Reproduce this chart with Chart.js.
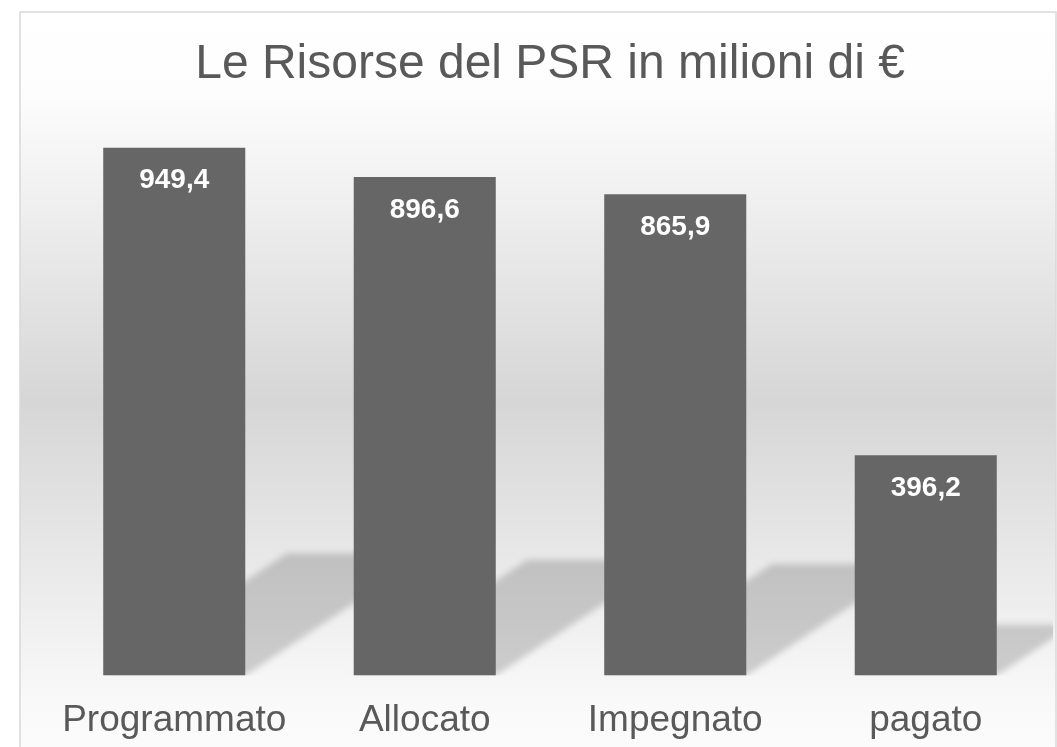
<!DOCTYPE html>
<html>
<head>
<meta charset="utf-8">
<script src="https://cdn.jsdelivr.net/npm/chart.js@4"></script>
<style>
  html, body { margin: 0; padding: 0; background: #ffffff; }
  #wrap { width: 1057px; height: 747px; position: relative; }
</style>
</head>
<body>
<div id="wrap"><canvas id="psrChart"></canvas></div>
<script>
// data
const categories = ['Programmato', 'Allocato', 'Impegnato', 'pagato'];
const values = [949.4, 896.6, 865.9, 396.2];
const chartTitle = 'Le Risorse del PSR in milioni di €';

const fontFamily = '"Liberation Sans", Arial, sans-serif';

// framed panel with vertical grey gradient
const panelBackground = {
    id: 'panelBackground',
    beforeDraw(chart) {
        const ctx = chart.ctx;
        const top = 12, left = 20, right = 1056, bottom = 760;
        ctx.save();
        const g = ctx.createLinearGradient(0, top, 0, 747);
        g.addColorStop(0, '#ffffff');
        g.addColorStop(0.11, '#fdfdfd');
        g.addColorStop(0.53, '#d6d6d6');
        g.addColorStop(0.94, '#f9f9f9');
        g.addColorStop(1, '#fbfbfb');
        ctx.fillStyle = g;
        ctx.fillRect(left, top, right - left, bottom - top);
        ctx.strokeStyle = '#d9d9d9';
        ctx.lineWidth = 1.5;
        ctx.strokeRect(left, top, right - left, bottom - top);
        ctx.restore();
    }
};

// perspective shadows cast behind each bar
const barShadows = {
    id: 'barShadows',
    beforeDatasetsDraw(chart) {
        const ctx = chart.ctx;
        const area = chart.chartArea;
        const meta = chart.getDatasetMeta(0);
        ctx.save();
        ctx.beginPath();
        ctx.rect(area.left, area.top, area.right - area.left + 2, area.bottom - area.top);
        ctx.clip();
        ctx.filter = 'blur(3px)';
        ctx.fillStyle = 'rgba(0,0,0,0.17)';
        meta.data.forEach(bar => {
            const h = bar.base - bar.y;
            const sh = h * 0.232;
            const dx = sh * 1.5;
            const l = bar.x - bar.width / 2;
            const r = bar.x + bar.width / 2;
            ctx.beginPath();
            ctx.moveTo(l, bar.base);
            ctx.lineTo(r, bar.base);
            ctx.lineTo(r + dx, bar.base - sh);
            ctx.lineTo(l + dx, bar.base - sh);
            ctx.closePath();
            ctx.fill();
        });
        ctx.restore();
    }
};

// value labels inside the top of each bar
const valueLabels = {
    id: 'valueLabels',
    afterDatasetsDraw(chart) {
        const ctx = chart.ctx;
        const meta = chart.getDatasetMeta(0);
        ctx.save();
        ctx.fillStyle = '#ffffff';
        ctx.font = 'bold 28px ' + fontFamily;
        ctx.textAlign = 'center';
        ctx.textBaseline = 'middle';
        meta.data.forEach((bar, i) => {
            const txt = values[i].toFixed(1).replace('.', ',');
            ctx.fillText(txt, bar.x, bar.y + 33);
        });
        ctx.restore();
    }
};

const ctx = document.getElementById('psrChart').getContext('2d');
const chart = new Chart(ctx, {
    type: 'bar',
    data: {
        labels: categories,
        datasets: [{
            data: values,
            backgroundColor: '#666666',
            borderWidth: 0,
            barPercentage: 0.567,
            categoryPercentage: 1
        }]
    },
    options: {
        responsive: true,
        maintainAspectRatio: false,
        animation: false,
        layout: {
            padding: { left: 49, right: 6, top: 12, bottom: -19 }
        },
        plugins: {
            legend: { display: false },
            tooltip: { enabled: false },
            title: {
                display: true,
                text: chartTitle,
                color: '#595959',
                font: { family: fontFamily, size: 48, weight: 'normal' },
                padding: { top: 24, bottom: 26 }
            }
        },
        scales: {
            x: {
                grid: { display: false, drawTicks: false },
                border: { display: false },
                ticks: {
                    color: '#595959',
                    font: { family: fontFamily, size: 37 },
                    padding: 23,
                    maxRotation: 0
                }
            },
            y: {
                display: false,
                min: 0,
                max: 1000
            }
        }
    },
    plugins: [panelBackground, barShadows, valueLabels]
});
</script>
</body>
</html>
